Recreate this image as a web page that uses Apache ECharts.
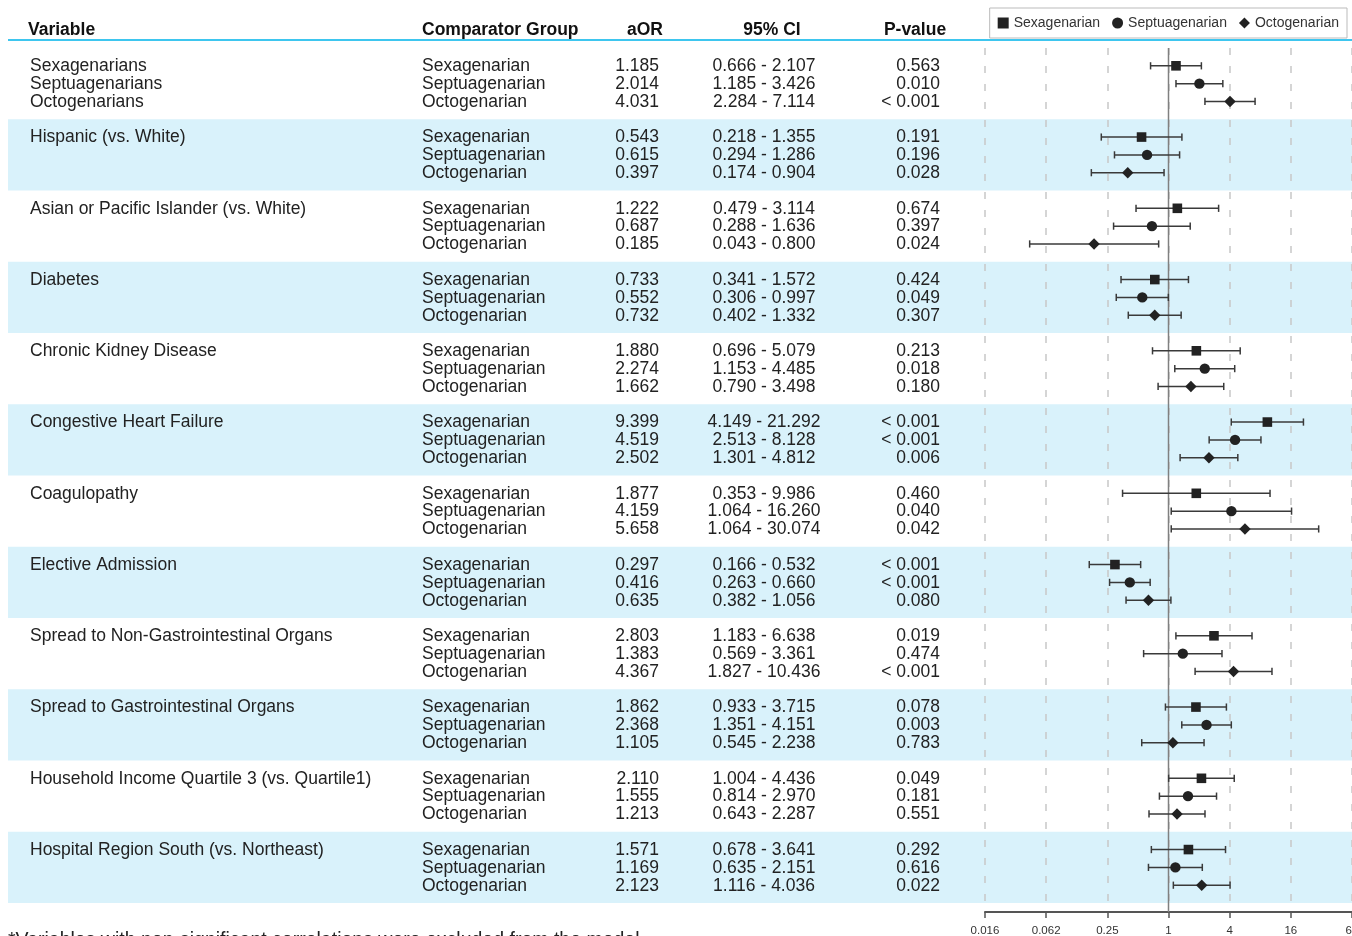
<!DOCTYPE html>
<html><head><meta charset="utf-8">
<script src="https://cdn.jsdelivr.net/npm/echarts@6/dist/echarts.min.js"></script>
<style>html,body{margin:0;padding:0;background:#fff}#c{width:1352px;height:936px}</style>
</head><body><div id="c"></div>
<script>
// ---------- data ----------
const variables = [
  'Sexagenarians\nSeptuagenarians\nOctogenarians',
  'Hispanic (vs. White)',
  'Asian or Pacific Islander (vs. White)',
  'Diabetes',
  'Chronic Kidney Disease',
  'Congestive Heart Failure',
  'Coagulopathy',
  'Elective Admission',
  'Spread to Non-Gastrointestinal Organs',
  'Spread to Gastrointestinal Organs',
  'Household Income Quartile 3 (vs. Quartile1)',
  'Hospital Region South (vs. Northeast)'
];
const comparatorGroups = ['Sexagenarian', 'Septuagenarian', 'Octogenarian'];

const aorSexa = [1.185, 0.543, 1.222, 0.733, 1.880, 9.399, 1.877, 0.297, 2.803, 1.862, 2.110, 1.571];
const aorSept = [2.014, 0.615, 0.687, 0.552, 2.274, 4.519, 4.159, 0.416, 1.383, 2.368, 1.555, 1.169];
const aorOcto = [4.031, 0.397, 0.185, 0.732, 1.662, 2.502, 5.658, 0.635, 4.367, 1.105, 1.213, 2.123];

const loSexa = [0.666, 0.218, 0.479, 0.341, 0.696, 4.149, 0.353, 0.166, 1.183, 0.933, 1.004, 0.678];
const hiSexa = [2.107, 1.355, 3.114, 1.572, 5.079, 21.292, 9.986, 0.532, 6.638, 3.715, 4.436, 3.641];
const loSept = [1.185, 0.294, 0.288, 0.306, 1.153, 2.513, 1.064, 0.263, 0.569, 1.351, 0.814, 0.635];
const hiSept = [3.426, 1.286, 1.636, 0.997, 4.485, 8.128, 16.260, 0.660, 3.361, 4.151, 2.970, 2.151];
const loOcto = [2.284, 0.174, 0.043, 0.402, 0.790, 1.301, 1.064, 0.382, 1.827, 0.545, 0.643, 1.116];
const hiOcto = [7.114, 0.904, 0.800, 1.332, 3.498, 4.812, 30.074, 1.056, 10.436, 2.238, 2.287, 4.036];

const pSexa = ['0.563', '0.191', '0.674', '0.424', '0.213', '< 0.001', '0.460', '< 0.001', '0.019', '0.078', '0.049', '0.292'];
const pSept = ['0.010', '0.196', '0.397', '0.049', '0.018', '< 0.001', '0.040', '< 0.001', '0.474', '0.003', '0.181', '0.616'];
const pOcto = ['< 0.001', '0.028', '0.024', '0.307', '0.180', '0.006', '0.042', '0.080', '< 0.001', '0.783', '0.551', '0.022'];

const tickLabels = ['0.016', '0.062', '0.25', '1', '4', '16', '64'];
const headers = ['Variable', 'Comparator Group', 'aOR', '95% CI', 'P-value'];
const footnote = '*Variables with non-significant correlations were excluded from the model';
const referenceValue = 1;

// ---------- assembled ----------
const aor = [aorSexa, aorSept, aorOcto];
const lo = [loSexa, loSept, loOcto];
const hi = [hiSexa, hiSept, hiOcto];
const pv = [pSexa, pSept, pOcto];
const nG = variables.length;
const rowPos = (g, k) => g + 0.25 * (k + 1);

const FONT = '"Liberation Sans", Arial, sans-serif';
const TXT = '#222';
const BODY = 17.5;

const tableRows = [];
for (let g = 0; g < nG; g++) for (let k = 0; k < 3; k++) tableRows.push({g, k, y: rowPos(g, k)});

function txt(x, y, s, align, va, extra) {
  return {type: 'text', style: Object.assign({
    x, y, text: s, fill: TXT, fontSize: BODY, fontFamily: FONT,
    align, verticalAlign: va
  }, extra || {})};
}

function renderTable(params, api) {
  const r = tableRows[params.dataIndex];
  const y = api.coord([0, api.value(0)])[1] + 0.5;
  const ch = [];
  if (r.k === 0) ch.push(txt(30, y - 8.9, variables[r.g], 'left', 'top', {lineHeight: 17.8}));
  ch.push(txt(422, y, comparatorGroups[r.k], 'left', 'middle'));
  ch.push(txt(659, y, aor[r.k][r.g].toFixed(3), 'right', 'middle'));
  ch.push(txt(764, y, lo[r.k][r.g].toFixed(3) + ' - ' + hi[r.k][r.g].toFixed(3), 'center', 'middle'));
  ch.push(txt(940, y, pv[r.k][r.g], 'right', 'middle'));
  return {type: 'group', children: ch};
}

function renderBand(params, api) {
  const g = api.value(0);
  const p1 = api.coord([0, g]);
  const p2 = api.coord([1344, g + 1]);
  return {type: 'rect', shape: {x: p1[0], y: p1[1], width: p2[0] - p1[0], height: p2[1] - p1[1]},
    style: {fill: '#d9f2fb'}};
}

function markerFor(shape, x, y) {
  const st = {fill: '#222'};
  if (shape === 'rect') return {type: 'rect', shape: {x: x - 4.8, y: y - 4.8, width: 9.6, height: 9.6}, style: st};
  if (shape === 'circle') return {type: 'circle', shape: {cx: x, cy: y, r: 5.2}, style: st};
  return {type: 'polygon', shape: {points: [[x, y - 5.7], [x + 5.7, y], [x, y + 5.7], [x - 5.7, y]]}, style: st};
}

function makeForestRender(shape) {
  return function (params, api) {
    const e = api.coord([api.value(0), api.value(3)]);
    const l = api.coord([api.value(1), api.value(3)]);
    const h = api.coord([api.value(2), api.value(3)]);
    const y = e[1];
    const st = {stroke: '#3a3a3a', lineWidth: 1.5};
    return {type: 'group', children: [
      {type: 'line', shape: {x1: l[0], y1: y, x2: h[0], y2: y}, style: st},
      {type: 'line', shape: {x1: l[0], y1: y - 3.6, x2: l[0], y2: y + 3.6}, style: st},
      {type: 'line', shape: {x1: h[0], y1: y - 3.6, x2: h[0], y2: y + 3.6}, style: st},
      markerFor(shape, e[0], y)
    ]};
  };
}

const shapes = ['rect', 'circle', 'diamond'];
const forestSeries = comparatorGroups.map((name, k) => ({
  name, type: 'custom', xAxisIndex: 1, yAxisIndex: 1, z: 5,
  itemStyle: {color: '#222'},
  encode: {x: [0, 1, 2], y: 3},
  renderItem: makeForestRender(shapes[k]),
  data: aor[k].map((v, g) => [v, lo[k][g], hi[k][g], rowPos(g, k)])
}));

const hdr = (x, s, align) => ({type: 'text', style: {x, y: 30.5, text: s, fontWeight: 'bold', fontSize: 17.5, fontFamily: FONT, fill: '#111', align, verticalAlign: 'middle'}});

const chart = echarts.init(document.getElementById('c'));
chart.setOption({
  animation: false,
  backgroundColor: '#fff',
  textStyle: {fontFamily: FONT},
  grid: [
    {left: 8, right: 0, top: 48, bottom: 33, outerBoundsMode: 'none', containLabel: false},
    {left: 985, right: 0, top: 48, bottom: 33, outerBoundsMode: 'none', containLabel: false}
  ],
  xAxis: [
    {gridIndex: 0, type: 'value', min: 0, max: 1344, show: false},
    {gridIndex: 1, type: 'log', logBase: 4, min: 1 / 64, max: 64, splitNumber: 6, offset: 9, position: 'bottom',
      axisLine: {show: true, onZero: false, lineStyle: {color: '#555', width: 2}},
      axisTick: {show: true, length: 6, lineStyle: {color: '#555', width: 1.5}},
      minorTick: {show: false},
      axisLabel: {fontSize: 11.5, color: '#333', margin: 13, fontFamily: FONT, showMaxLabel: true, showMinLabel: true,
        formatter: v => tickLabels[Math.round(Math.log(v) / Math.log(4)) + 3]},
      splitLine: {show: true, lineStyle: {type: [7, 11], color: '#c8c8c8', width: 1.5}}
    }
  ],
  yAxis: [
    {gridIndex: 0, type: 'value', min: 0, max: 12, inverse: true, show: false},
    {gridIndex: 1, type: 'value', min: 0, max: 12, inverse: true, show: false}
  ],
  legend: {
    data: comparatorGroups.map((n, k) => ({name: n, icon: shapes[k]})),
    right: 5, top: 8, itemWidth: 11, itemHeight: 11, itemGap: 12,
    textStyle: {fontSize: 14, color: '#333', fontFamily: FONT},
    borderColor: '#bbb', borderWidth: 1, padding: [8, 8], backgroundColor: '#fff'
  },
  graphic: [
    {type: 'line', shape: {x1: 8, y1: 40, x2: 1352, y2: 40}, style: {stroke: '#3ec6ef', lineWidth: 2}},
    hdr(28, headers[0], 'left'),
    hdr(422, headers[1], 'left'),
    hdr(645, headers[2], 'center'),
    hdr(772, headers[3], 'center'),
    hdr(915, headers[4], 'center'),
    {type: 'text', style: {x: 8, y: 931, text: footnote, fontSize: 19.5, fontFamily: FONT, fill: '#222', align: 'left', verticalAlign: 'top'}}
  ],
  series: [
    {type: 'custom', name: 'bands', xAxisIndex: 0, yAxisIndex: 0, z: -1, silent: true,
      encode: {y: 0}, renderItem: renderBand,
      data: variables.map((v, g) => g).filter(g => g % 2 === 1).map(g => [g])},
    {type: 'custom', name: 'table', xAxisIndex: 0, yAxisIndex: 0, z: 3, silent: true,
      encode: {y: 0}, renderItem: renderTable,
      data: tableRows.map(r => [r.y])},
    {type: 'custom', name: 'ref', xAxisIndex: 1, yAxisIndex: 1, z: 4, silent: true,
      encode: {x: 0}, renderItem: function (params, api) {
        const a = api.coord([api.value(0), 0]);
        const b = api.coord([api.value(0), 12]);
        return {type: 'line', shape: {x1: a[0], y1: a[1], x2: b[0], y2: b[1] + 9}, style: {stroke: '#808080', lineWidth: 1.5}};
      },
      data: [[referenceValue]]}
  ].concat(forestSeries)
});
</script></body></html>
